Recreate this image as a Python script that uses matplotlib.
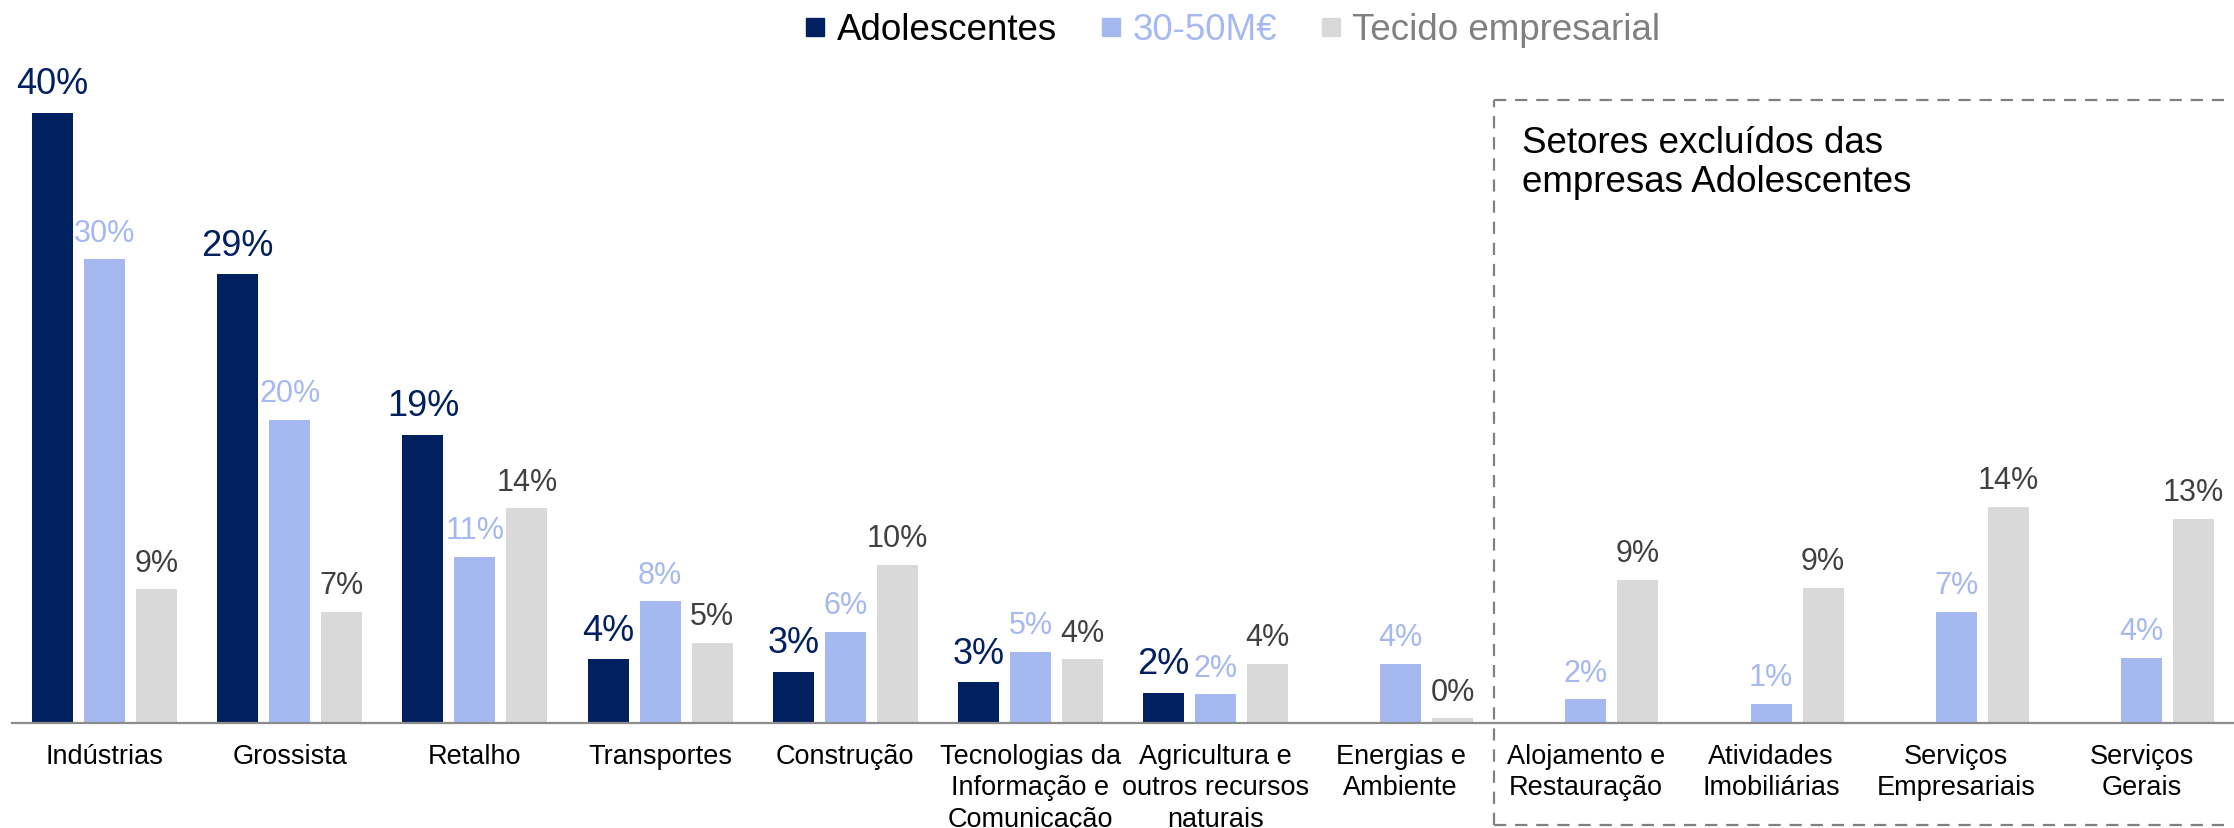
import numpy as np
import matplotlib
matplotlib.use("Agg")
import matplotlib.pyplot as plt
from matplotlib.lines import Line2D

plt.rcParams['font.family'] = ['Liberation Sans', 'DejaVu Sans']

categories = ["Indústrias", "Grossista", "Retalho", "Transportes", "Construção",
              "Tecnologias da\nInformação e\nComunicação",
              "Agricultura e\noutros recursos\nnaturais",
              "Energias e\nAmbiente", "Alojamento e\nRestauração",
              "Atividades\nImobiliárias", "Serviços\nEmpresariais", "Serviços\nGerais"]
series_names = ["Adolescentes", "30-50M€", "Tecido empresarial"]
adolescentes = [40.0, 29.4, 18.9, 4.2, 3.4, 2.7, 2.0, np.nan, np.nan, np.nan, np.nan, np.nan]
medias = [30.4, 19.9, 10.9, 8.0, 6.0, 4.7, 1.9, 3.9, 1.6, 1.3, 7.3, 4.3]
tecido = [8.8, 7.3, 14.1, 5.3, 10.4, 4.2, 3.9, 0.35, 9.4, 8.9, 14.2, 13.4]
box_text = "Setores excluídos das\nempresas Adolescentes"

bar_colors = ["#002060", "#a6b8f0", "#d9d9d9"]
label_colors = ["#002060", "#a6b8f0", "#404040"]
legend_text_colors = ["#000000", "#a6b8f0", "#808080"]
label_sizes = [26, 22, 22]

W, H = 2234, 829
fig = plt.figure(figsize=(W / 100, H / 100), dpi=100)
ax = fig.add_axes([12 / W, 0.1261, (W - 12) / W, 0.829])

x = np.arange(len(categories))
width = 0.221
offsets = [-0.281, 0.0, 0.281]
all_series = [adolescentes, medias, tecido]
for s, vals in enumerate(all_series):
    vals = np.array(vals, dtype=float)
    mask = ~np.isnan(vals)
    bars = ax.bar(x[mask] + offsets[s], vals[mask], width=width, color=bar_colors[s],
                  label=series_names[s], zorder=2)
    for rect, v in zip(bars, vals[mask]):
        ax.annotate(f"{round(v)}%", (rect.get_x() + rect.get_width() / 2, rect.get_height()),
                    xytext=(0, 8.3), textcoords="offset points", ha="center", va="bottom",
                    fontsize=label_sizes[s], color=label_colors[s])

ax.set_xlim(-0.5, len(categories) - 0.5)
ax.set_ylim(0, 45)
ax.set_xticks(x)
ax.set_xticklabels(categories, fontsize=19.5, linespacing=1.27)
ax.tick_params(axis="x", length=0, pad=14)
ax.set_yticks([])
for sp in ["top", "left", "right"]:
    ax.spines[sp].set_visible(False)
ax.spines["bottom"].set_color("#8c8c8c")
ax.spines["bottom"].set_linewidth(1.6)
ax.patch.set_alpha(0)

# Dashed box (figure pixel positions converted to fractions)
def fx(px):
    return px / W

def fy(py):
    return 1 - py / H

box_kw = dict(color="#808080", lw=1.6, linestyle=(0, (5.5, 4.0)), transform=fig.transFigure)
left, right, top, bottom = 1494, 2230, 100.7, 826
fig.add_artist(Line2D([fx(left), fx(left)], [fy(bottom), fy(top)], **box_kw))
fig.add_artist(Line2D([fx(left), fx(right)], [fy(top), fy(top)], **box_kw))
fig.add_artist(Line2D([fx(left), fx(right)], [fy(bottom), fy(bottom)], **box_kw))
fig.text(fx(1522), fy(126), box_text, fontsize=26.5, ha="left", va="top",
         color="#000000", linespacing=1.13)

handles = [Line2D([], [], marker="s", linestyle="none", markersize=13.5,
                  markerfacecolor=c, markeredgecolor=c) for c in bar_colors]
leg = fig.legend(handles, series_names, loc="center", bbox_to_anchor=(1231 / W, 1 - 31 / H),
                 ncol=3, frameon=False, fontsize=26.5, handlelength=0.75, handletextpad=0.2,
                 columnspacing=1.1, borderpad=0, borderaxespad=0,
                 labelcolor=legend_text_colors)

fig.savefig("out.png", dpi=100)
